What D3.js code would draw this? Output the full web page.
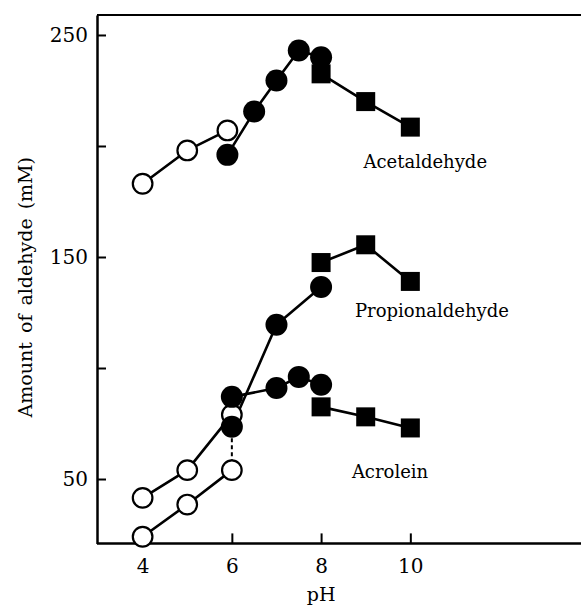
<!DOCTYPE html>
<html>
<head>
<meta charset="utf-8">
<script src="https://cdn.jsdelivr.net/npm/d3@7"></script>
<style>
  html, body { margin: 0; padding: 0; background: #fff; }
  svg { display: block; }
  text { font-family: "DejaVu Serif", "Liberation Serif", serif; fill: #000; }
</style>
</head>
<body>
<svg id="chart" width="581" height="608"></svg>
<script>
// Aldehyde produced (mM) versus pH; open circles, filled circles and squares
// are separate runs for each aldehyde.
const acetOpenPH = [4, 5, 5.9];
const acetOpen = [183, 198, 207];
const acetFilledPH = [5.9, 6.5, 7, 7.5, 8];
const acetFilled = [196, 215.5, 229.5, 243, 240];
const acetSquarePH = [8, 9, 10];
const acetSquare = [232.5, 220, 208.5];

const propOpenPH = [4, 5, 6];
const propOpen = [24, 38.5, 54];
const propFilledPH = [6, 7, 8];
const propFilled = [73.5, 119.5, 136.5];
const propSquarePH = [8, 9, 10];
const propSquare = [147.5, 155.5, 139];

const acroOpenPH = [4, 5, 6];
const acroOpen = [41.5, 54, 79];
const acroFilledPH = [6, 7, 7.5, 8];
const acroFilled = [87, 91, 96, 92.5];
const acroSquarePH = [8, 9, 10];
const acroSquare = [82.5, 78, 73];

const xTicks = [4, 6, 8, 10];
const yTicks = [50, 100, 150, 200, 250];
const yTickLabels = ["50", "", "150", "", "250"];
const seriesNames = ["Acetaldehyde", "Propionaldehyde", "Acrolein"];

const zip = (xs, ys) => xs.map((p, i) => ({ ph: p, v: ys[i] }));

const svg = d3.select("#chart");
const x = d3.scaleLinear().domain([3, 14]).range([98, 588.8]);
const y = d3.scaleLinear().domain([21, 259]).range([543.4, 15]);

// frame: top rule
svg.append("line")
  .attr("x1", x(3) - 1).attr("x2", 581)
  .attr("y1", y(259)).attr("y2", y(259))
  .attr("stroke", "#000").attr("stroke-width", 2);

// axes with inward ticks
const yAxis = d3.axisLeft(y)
  .tickValues(yTicks)
  .tickFormat((d, i) => yTickLabels[i])
  .tickSizeInner(-9).tickSizeOuter(0).tickPadding(9);
const gy = svg.append("g").attr("transform", `translate(${x(3) - 1},0)`).call(yAxis);

const xAxis = d3.axisBottom(x)
  .tickValues(xTicks)
  .tickFormat(d3.format("d"))
  .tickSizeInner(-10).tickSizeOuter(0).tickPadding(15);
const gx = svg.append("g").attr("transform", `translate(0,${y(21)})`).call(xAxis);

[gx, gy].forEach(g => {
  g.select(".domain").attr("stroke", "#000").attr("stroke-width", 2.5);
  g.selectAll(".tick line").attr("stroke", "#000").attr("stroke-width", 2);
  g.selectAll(".tick text")
    .style("font-family", '"DejaVu Serif", serif')
    .attr("font-size", 20).attr("fill", "#000");
});
gx.select(".domain").attr("d", `M${x(3) - 1},0H581`);

// axis titles
svg.append("text")
  .attr("transform", `translate(32,${(y(259) + y(21)) / 2 + 8}) rotate(-90)`)
  .attr("text-anchor", "middle")
  .attr("font-size", 19)
  .style("word-spacing", "3px")
  .text("Amount of aldehyde (mM)");

svg.append("text")
  .attr("x", x(8)).attr("y", 601)
  .attr("text-anchor", "middle")
  .attr("font-size", 19)
  .text("pH");

// connecting lines
const line = d3.line().x(d => x(d.ph)).y(d => y(d.v));
const solidRuns = [
  zip(acetOpenPH, acetOpen), zip(acetFilledPH, acetFilled), zip(acetSquarePH, acetSquare),
  zip(propOpenPH, propOpen), zip(propFilledPH, propFilled), zip(propSquarePH, propSquare),
  zip(acroOpenPH, acroOpen), zip(acroFilledPH, acroFilled), zip(acroSquarePH, acroSquare)
];
svg.append("g").selectAll("path").data(solidRuns).join("path")
  .attr("d", line)
  .attr("fill", "none").attr("stroke", "#000").attr("stroke-width", 2.6)
  .attr("stroke-linejoin", "round");

// dashed link between the two propionaldehyde runs at pH 6
svg.append("path")
  .attr("d", line([
    { ph: propOpenPH[2], v: propOpen[2] },
    { ph: propFilledPH[0], v: propFilled[0] }
  ]))
  .attr("fill", "none").attr("stroke", "#000").attr("stroke-width", 2)
  .attr("stroke-dasharray", "4,3");

// markers: open circles underneath, then filled circles and squares
const openPts = [].concat(zip(acetOpenPH, acetOpen), zip(propOpenPH, propOpen), zip(acroOpenPH, acroOpen));
const filledPts = [].concat(zip(acetFilledPH, acetFilled), zip(propFilledPH, propFilled), zip(acroFilledPH, acroFilled));
const squarePts = [].concat(zip(acetSquarePH, acetSquare), zip(propSquarePH, propSquare), zip(acroSquarePH, acroSquare));

svg.append("g").selectAll("circle").data(openPts).join("circle")
  .attr("cx", d => x(d.ph)).attr("cy", d => y(d.v)).attr("r", 9.8)
  .attr("fill", "#fff").attr("stroke", "#000").attr("stroke-width", 2.2);

svg.append("g").selectAll("rect").data(squarePts).join("rect")
  .attr("x", d => x(d.ph) - 9.5).attr("y", d => y(d.v) - 9.5)
  .attr("width", 19).attr("height", 19)
  .attr("fill", "#000");

svg.append("g").selectAll("circle").data(filledPts).join("circle")
  .attr("cx", d => x(d.ph)).attr("cy", d => y(d.v)).attr("r", 11)
  .attr("fill", "#000");

// series names
const labelAt = [[8.95, 190], [8.76, 123], [8.69, 50.5]];
svg.append("g").selectAll("text").data(seriesNames).join("text")
  .attr("x", (d, i) => x(labelAt[i][0]))
  .attr("y", (d, i) => y(labelAt[i][1]))
  .attr("font-size", 18)
  .text(d => d);
</script>
</body>
</html>
